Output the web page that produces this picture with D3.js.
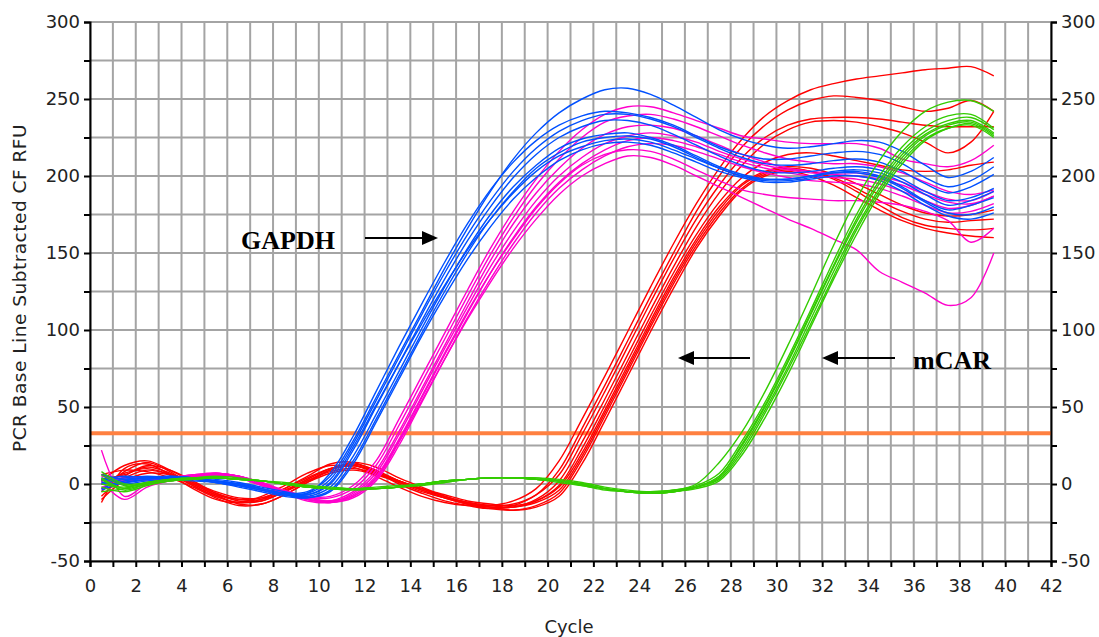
<!DOCTYPE html>
<html><head><meta charset="utf-8">
<script src="https://cdn.jsdelivr.net/npm/d3@7/dist/d3.min.js"></script>
<style>body{margin:0;background:#fff}svg{display:block}</style>
</head><body><svg id="c" width="1099" height="637"></svg>
<script>
const cycles = [0.5,1.5,2.5,3.5,4.5,5.5,6.5,7.5,8.5,9.5,10.5,11.5,12.5,13.5,14.5,15.5,16.5,17.5,18.5,19.5,20.5,21.5,22.5,23.5,24.5,25.5,26.5,27.5,28.5,29.5,30.5,31.5,32.5,33.5,34.5,35.5,36.5,37.5,38.5,39.5];
const xGridValues = [0,1,2,3,4,5,6,7,8,9,10,11,12,13,14,15,16,17,18,19,20,21,22,23,24,25,26,27,28,29,30,31,32,33,34,35,36,37,38,39,40,41,42];
const xTickLabels = [0,2,4,6,8,10,12,14,16,18,20,22,24,26,28,30,32,34,36,38,40,42];
const yGridValues = [-50,-25,0,25,50,75,100,125,150,175,200,225,250,275,300];
const yTickLabels = [-50,0,50,100,150,200,250,300];
const threshold = 33;

const gapdhBlue = [
 [6,3,4,4,3,2,0,-3,-6,-5,5,28,56,84,112,140,166,190,211,228,241,250,256,257,253,246,238,230,224,220,218,219,221,223,222,216,207,199,203,212],
 [2,4,5,4,3,1,-1,-4,-7,-6,7,31,60,89,117,144,169,191,209,223,233,239,242,241,238,233,226,219,214,211,211,213,215,216,214,208,199,193,197,206],
 [0,3,4,5,4,2,0,-3,-6,-6,3,26,54,82,110,137,162,184,203,218,229,236,240,240,237,232,225,218,212,208,207,208,210,211,209,203,195,189,193,201],
 [4,1,3,4,4,3,1,-2,-5,-7,0,22,50,78,106,133,158,180,199,214,225,232,236,236,233,227,220,213,207,203,202,203,205,206,204,198,190,184,186,192],
 [-3,2,4,5,4,2,-1,-4,-7,-8,-2,18,45,73,101,128,153,175,193,207,218,224,227,228,225,220,213,206,201,198,198,200,203,204,202,196,188,181,184,190],
 [3,5,4,3,2,1,-2,-5,-8,-9,-4,15,42,70,98,125,150,172,190,205,215,222,225,226,224,219,212,205,200,197,197,199,202,203,200,193,184,178,181,186],
 [1,0,2,3,3,2,0,-3,-6,-7,1,24,51,78,104,129,152,172,189,203,213,219,223,224,222,217,211,205,200,198,198,200,202,202,199,192,183,176,175,180],
 [-4,1,3,4,3,1,-1,-4,-7,-9,-5,13,40,68,96,122,146,167,185,199,210,217,221,222,220,215,209,203,199,196,196,198,200,200,197,190,181,174,172,176]
];
const gapdhMagenta = [
 [3,2,3,4,5,7,5,1,-4,-8,-8,-1,15,42,70,98,126,153,177,198,216,230,240,245,245,241,236,231,226,224,222,221,221,221,218,211,208,206,210,220],
 [0,4,4,4,6,7,5,0,-5,-9,-9,-3,12,38,66,94,122,149,173,194,211,225,235,239,240,237,232,226,220,215,211,209,208,208,206,202,196,190,188,191],
 [22,-8,0,3,5,6,4,-1,-6,-10,-11,-5,9,34,62,90,118,145,169,189,205,218,227,232,233,231,226,220,214,209,205,203,202,202,200,196,190,185,184,190],
 [2,-10,-2,2,4,6,4,-1,-6,-11,-12,-6,7,32,60,88,115,141,164,184,200,212,221,226,228,226,222,216,211,207,204,202,201,200,198,194,188,183,182,187],
 [5,3,2,3,5,7,5,1,-5,-10,-12,-8,4,28,56,84,111,137,160,180,196,208,217,223,225,223,219,214,209,205,202,200,199,198,195,190,184,179,181,187],
 [-2,1,3,4,5,6,5,0,-5,-10,-12,-9,2,25,53,81,108,133,156,176,192,204,213,219,221,220,216,211,206,202,199,197,196,195,192,187,181,176,177,182],
 [1,2,3,4,6,7,5,0,-5,-10,-11,-7,5,29,57,85,112,137,159,179,195,207,214,217,216,211,204,197,191,188,186,185,184,184,183,181,177,171,157,166],
 [3,4,3,3,5,6,4,0,-5,-9,-11,-8,3,27,54,81,107,131,153,172,188,200,208,213,212,207,200,193,186,179,172,166,159,152,138,131,124,116,121,150]
];
const mcarRed = [
 [-12,10,13,6,-3,-10,-12,-8,-1,7,12,11,5,-2,-8,-12,-14,-14,-11,-3,15,42,70,99,128,156,182,205,224,239,249,256,260,263,265,267,269,270,271,265],
 [-5,8,14,8,-1,-8,-12,-10,-3,5,13,14,8,0,-6,-11,-14,-16,-14,-7,9,36,64,93,122,150,177,200,219,233,243,249,252,251,249,245,242,244,249,242],
 [3,6,11,7,0,-7,-10,-9,-3,4,10,12,7,1,-5,-9,-12,-14,-13,-7,6,32,60,89,118,146,172,194,212,225,233,237,238,238,237,235,233,232,232,232],
 [-8,5,12,9,2,-6,-11,-11,-5,3,10,13,9,2,-4,-9,-13,-15,-15,-10,2,27,55,84,113,141,167,189,207,221,230,235,236,235,232,228,222,215,222,242],
 [0,7,10,6,-1,-8,-12,-11,-5,2,9,12,8,2,-3,-8,-12,-14,-15,-11,-1,23,51,80,109,137,162,183,199,209,214,215,213,210,207,204,203,204,207,209],
 [2,12,15,9,1,-6,-10,-10,-5,2,8,10,7,2,-3,-7,-11,-13,-14,-11,-2,20,48,77,106,134,159,180,195,203,206,205,201,195,188,181,176,174,175,178],
 [-3,4,9,6,0,-7,-13,-13,-7,1,9,14,11,4,-2,-8,-13,-16,-17,-14,-6,16,44,73,102,130,155,176,192,201,204,203,199,192,184,177,172,170,171,172],
 [6,9,8,4,-2,-9,-14,-13,-7,1,7,9,6,1,-4,-9,-13,-15,-15,-12,-4,18,46,75,104,132,157,178,194,202,205,203,198,190,181,173,168,166,165,166],
 [-10,2,7,6,1,-5,-9,-9,-4,3,10,12,8,2,-3,-8,-12,-15,-17,-15,-8,13,41,70,99,127,153,174,191,200,203,200,194,186,178,171,166,163,161,160]
];
const mcarGreen = [
 [-5,-3,1,3,4,4,3,2,0,-2,-3,-3,-3,-2,0,2,3,4,4,4,3,1,-2,-4,-5,-4,0,14,34,60,90,122,155,185,210,229,242,248,249,242],
 [3,-4,0,2,4,4,3,2,0,-2,-3,-3,-3,-2,0,2,3,4,4,3,2,0,-3,-5,-5,-4,-1,7,28,53,82,113,145,175,200,219,232,239,240,231],
 [8,0,1,3,4,5,4,2,0,-1,-3,-3,-3,-2,-1,1,3,4,4,3,2,0,-3,-5,-6,-5,-2,5,25,50,79,110,141,170,195,214,227,234,236,228],
 [-2,-5,-1,2,3,4,3,2,0,-2,-3,-4,-3,-2,0,1,3,4,4,4,2,0,-3,-5,-6,-5,-2,4,23,48,76,107,138,167,192,212,226,233,235,227],
 [4,-3,0,2,4,4,3,2,1,-1,-2,-3,-3,-2,0,2,3,4,4,3,2,-1,-3,-5,-6,-5,-3,2,19,43,71,102,133,162,188,208,223,231,234,226],
 [0,-2,1,3,4,4,3,2,0,-2,-3,-3,-3,-2,0,2,3,4,4,3,1,-1,-4,-5,-6,-5,-2,3,21,46,74,104,135,165,190,210,224,231,233,225],
 [6,-1,0,2,3,4,3,2,0,-2,-3,-3,-2,-1,0,2,3,4,4,3,2,0,-3,-5,-5,-4,-2,5,26,51,80,111,142,172,197,216,229,236,238,230]
];
const groups = [
 {data: mcarRed, color: "#ff0000"},
 {data: gapdhMagenta, color: "#ff00cc"},
 {data: gapdhBlue, color: "#0050ff"},
 {data: mcarGreen, color: "#33cc00"}
];

const svg = d3.select("#c");
const x = d3.scaleLinear().domain([0, 42]).range([90, 1051]);
const y = d3.scaleLinear().domain([-50, 300]).range([561, 22]);
const font = "'DejaVu Sans', Verdana, sans-serif";

// grid
const grid = svg.append("g").attr("stroke", "#a4a4a4").attr("stroke-width", 2);
grid.selectAll("line.v").data(xGridValues).join("line")
  .attr("x1", d => x(d)).attr("x2", d => x(d)).attr("y1", y(300)).attr("y2", y(-50));
grid.selectAll("line.h").data(yGridValues).join("line")
  .attr("x1", x(0)).attr("x2", x(42)).attr("y1", d => y(d)).attr("y2", d => y(d));

// threshold
svg.append("line").attr("x1", x(0)).attr("x2", x(42)).attr("y1", y(threshold)).attr("y2", y(threshold))
  .attr("stroke", "#ff8040").attr("stroke-width", 4);

// curves
const line = d3.line().x((d, i) => x(cycles[i])).y(d => y(d)).curve(d3.curveCatmullRom.alpha(0.5));
groups.forEach(g => {
  svg.append("g").selectAll("path").data(g.data).join("path")
    .attr("d", d => line(d)).attr("fill", "none").attr("stroke", g.color).attr("stroke-width", 1.4);
});

// axes
const yAxisFmt = d => yTickLabels.includes(d) ? d : "";
const left = svg.append("g").attr("transform", `translate(${x(0)},0)`)
  .call(d3.axisLeft(y).tickValues(yGridValues).tickFormat(yAxisFmt).tickSize(6).tickPadding(4));
const right = svg.append("g").attr("transform", `translate(${x(42)},0)`)
  .call(d3.axisRight(y).tickValues(yGridValues).tickFormat(yAxisFmt).tickSize(6).tickPadding(4));
const bottom = svg.append("g").attr("transform", `translate(0,${y(-50)})`)
  .call(d3.axisBottom(x).tickValues(xGridValues).tickFormat(d => xTickLabels.includes(d) ? d : "").tickSize(6).tickPadding(12));
[left, right, bottom].forEach(a => {
  a.select(".domain").attr("stroke", "#000").attr("stroke-width", 2);
  a.selectAll(".tick line").attr("stroke", "#000").attr("stroke-width", 2);
  a.selectAll("text").attr("font-family", font).attr("font-size", 18).attr("fill", "#222");
});

// axis titles
svg.append("text").attr("transform", "translate(26,288) rotate(-90)").attr("text-anchor", "middle")
  .attr("font-family", font).attr("font-size", 18.5).attr("letter-spacing", 0.5).attr("fill", "#222")
  .text("PCR Base Line Subtracted CF RFU");
svg.append("text").attr("x", 569).attr("y", 633).attr("text-anchor", "middle")
  .attr("font-family", font).attr("font-size", 18).attr("fill", "#222").text("Cycle");

// annotations
const serif = "'Liberation Serif', 'Times New Roman', serif";
svg.append("text").attr("x", 241).attr("y", 249).attr("font-family", serif).attr("font-weight", "bold")
  .attr("font-size", 26).text("GAPDH");
svg.append("text").attr("x", 913).attr("y", 369).attr("font-family", serif).attr("font-weight", "bold")
  .attr("font-size", 26).text("mCAR");
function arrow(x1, x2, yy) {
  const dir = Math.sign(x2 - x1);
  svg.append("line").attr("x1", x1).attr("x2", x2 - dir * 12).attr("y1", yy).attr("y2", yy)
    .attr("stroke", "#000").attr("stroke-width", 2);
  svg.append("path").attr("d", `M${x2},${yy} L${x2 - dir * 16},${yy - 7} L${x2 - dir * 16},${yy + 7} Z`).attr("fill", "#000");
}
arrow(365, 438, 238);
arrow(750, 678, 358);
arrow(895, 822, 358);
</script></body></html>
